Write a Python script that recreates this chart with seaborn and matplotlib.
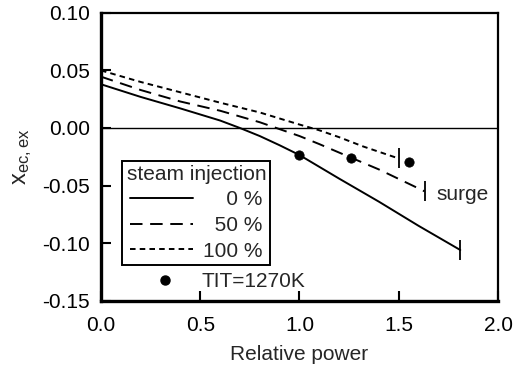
import matplotlib
matplotlib.use("Agg")
import matplotlib.pyplot as plt
import seaborn as sns
import pandas as pd
from matplotlib.lines import Line2D

# ---- data ----
x_0 = [0.0, 0.2, 0.4, 0.6, 0.7, 0.8, 0.9, 1.0, 1.2, 1.4, 1.6, 1.81]
y_0 = [0.038, 0.027, 0.017, 0.0065, 0.0, -0.007, -0.015, -0.0235, -0.044, -0.064, -0.085, -0.106]
x_50 = [0.0, 0.2, 0.4, 0.6, 0.8, 0.9, 1.0, 1.1, 1.26, 1.4, 1.63]
y_50 = [0.0446, 0.033, 0.023, 0.015, 0.005, -0.001, -0.007, -0.014, -0.0258, -0.036, -0.055]
x_100 = [0.0, 0.2, 0.4, 0.6, 0.8, 1.0, 1.1, 1.2, 1.32, 1.5]
y_100 = [0.050, 0.040, 0.031, 0.022, 0.0135, 0.003, -0.002, -0.008, -0.016, -0.0265]
tit_x = [1.0, 1.26, 1.55]
tit_y = [-0.0235, -0.0258, -0.0293]
series_labels = ["0 %", "50 %", "100 %"]
legend_title = "steam injection"
tit_label = "TIT=1270K"
xticks = [0.0, 0.5, 1.0, 1.5, 2.0]
yticks = [-0.15, -0.10, -0.05, 0.00, 0.05, 0.10]

sns.set_style("ticks")
plt.rcParams["font.family"] = ["Liberation Sans", "DejaVu Sans"]
plt.rcParams["mathtext.default"] = "regular"
plt.rcParams["lines.scale_dashes"] = False

fig = plt.figure(figsize=(5.15, 3.68), dpi=100)
ax = fig.add_axes([0.196, 0.183, 0.771, 0.782])

FS = 15
lw = 1.4
styles = [(None), (0, (9.0, 5.5)), (0, (4.0, 3.0))]
data = [(x_0, y_0), (x_50, y_50), (x_100, y_100)]
handles = []
for (xs, ys), ls, lab in zip(data, styles, series_labels):
    df = pd.DataFrame({"x": xs, "y": ys})
    sns.lineplot(data=df, x="x", y="y", ax=ax, color="black", linewidth=lw,
                 sort=False, estimator=None)
    line = ax.get_lines()[-1]
    if ls is not None:
        line.set_linestyle(ls)
    # surge end marker
    ax.plot([xs[-1]], [ys[-1]], marker="|", markersize=15, markeredgewidth=1.3,
            color="black", linestyle="none")
    handles.append(Line2D([], [], color="black", linewidth=lw,
                          linestyle=("-" if ls is None else ls)))

dots = pd.DataFrame({"x": tit_x, "y": tit_y})
sns.scatterplot(data=dots, x="x", y="y", ax=ax, color="black", s=45,
                edgecolor="black", zorder=5)

ax.axhline(0.0, color="black", linewidth=1.0, zorder=1)

ax.set_xlim(0.0, 2.0)
ax.set_ylim(-0.15, 0.10)
ax.set_xticks(xticks)
ax.set_yticks(yticks)
ax.set_xticklabels([f"{v:.1f}" for v in xticks], fontsize=FS)
ax.set_yticklabels([f"{v:.2f}" for v in yticks], fontsize=FS)
ax.tick_params(axis="both", direction="in", length=7, width=1.5, colors="black")
ax.tick_params(axis="x", pad=11)
ax.tick_params(axis="y", pad=8)
ax.set_xlabel("Relative power", fontsize=FS, labelpad=7)
ax.set_ylabel(r"x$_{ec,ex}$", fontsize=FS + 2, labelpad=6)

for side in ["left", "bottom"]:
    ax.spines[side].set_linewidth(2.4)
for side in ["top", "right"]:
    ax.spines[side].set_linewidth(1.6)
for s in ax.spines.values():
    s.set_color("black")

ax.text(1.69, -0.058, "surge", fontsize=FS, ha="left", va="center")

fsp = "\u2007"
labels_padded = [fsp * (5 - len(l)) + l if len(l) < 5 else l for l in series_labels]
leg = ax.legend(handles, labels_padded, title=legend_title, loc="upper left",
                bbox_to_anchor=(0.054, 0.487), borderaxespad=0, fontsize=FS,
                title_fontsize=FS, frameon=True, fancybox=False, handlelength=3.0,
                handletextpad=0.5, labelspacing=0.32, borderpad=0.2,
                edgecolor="black", framealpha=1)
leg.get_frame().set_linewidth(1.4)
ax.add_artist(leg)

dot_handle = Line2D([], [], marker="o", color="black", markersize=6.5, linestyle="none")
leg2 = ax.legend([dot_handle], [tit_label], loc="center left",
                 bbox_to_anchor=(0.122, 0.066), borderaxespad=0, fontsize=FS,
                 frameon=False, handlelength=1.5, handletextpad=0.98, borderpad=0.0)

fig.savefig("out.png", dpi=100)
